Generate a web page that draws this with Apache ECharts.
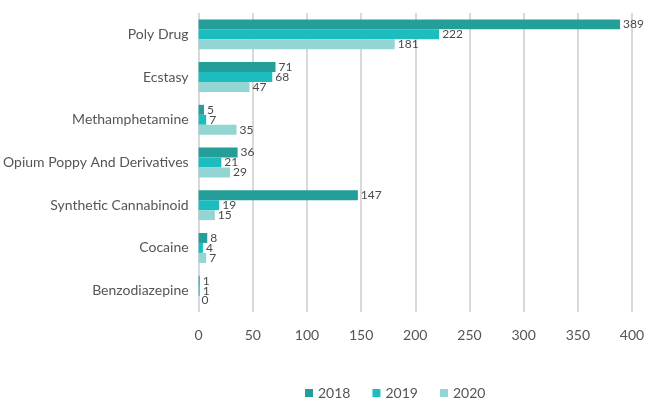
<!DOCTYPE html>
<html>
<head>
<meta charset="utf-8">
<script src="https://cdn.jsdelivr.net/npm/echarts@6/dist/echarts.min.js"></script>
<style>
  html, body { margin: 0; padding: 0; background: #fff; }
  #chart { width: 657px; height: 403px; }
</style>
</head>
<body>
<div id="chart"></div>
<script>
const categories = ['Poly Drug', 'Ecstasy', 'Methamphetamine', 'Opium Poppy And Derivatives', 'Synthetic Cannabinoid', 'Cocaine', 'Benzodiazepine']
const years = ['2018', '2019', '2020']
const values2018 = [389, 71, 5, 36, 147, 8, 1]
const values2019 = [222, 68, 7, 21, 19, 4, 1]
const values2020 = [181, 47, 35, 29, 15, 7, 0]
const colors = ['#249e99', '#1dbdbf', '#93d5d2']

const chart = echarts.init(document.getElementById('chart'))
const font = 'Lato, "DejaVu Sans", sans-serif'

const makeSeries = (name, data, color) => ({
  name,
  type: 'bar',
  data,
  barGap: '0%',
  barCategoryGap: '30%',
  itemStyle: { color },
  label: {
    show: true,
    position: 'right',
    distance: 3,
    color: '#4a4a4a',
    fontSize: 12,
    fontFamily: font
  }
})

chart.setOption({
  animation: false,
  backgroundColor: '#fff',
  grid: { left: 196, right: 25, top: 13, bottom: 91 },
  legend: {
    bottom: -2,
    left: 300,
    itemWidth: 8,
    itemHeight: 8,
    itemGap: 22,
    icon: 'rect',
    textStyle: { color: '#555', fontSize: 14, fontFamily: font },
    data: years
  },
  xAxis: {
    type: 'value',
    min: 0,
    max: 400,
    interval: 50,
    axisLine: { show: false },
    axisTick: { show: false },
    axisLabel: { color: '#555', fontSize: 14, fontFamily: font, margin: 16 },
    splitLine: { lineStyle: { color: '#d9d9d9', width: 2 } }
  },
  yAxis: {
    type: 'category',
    data: categories,
    inverse: true,
    axisLine: { show: false },
    axisTick: { show: false },
    axisLabel: { color: '#555', fontSize: 14, fontFamily: font, margin: 10 }
  },
  series: [
    makeSeries(years[0], values2018, colors[0]),
    makeSeries(years[1], values2019, colors[1]),
    makeSeries(years[2], values2020, colors[2])
  ]
})
</script>
</body>
</html>
